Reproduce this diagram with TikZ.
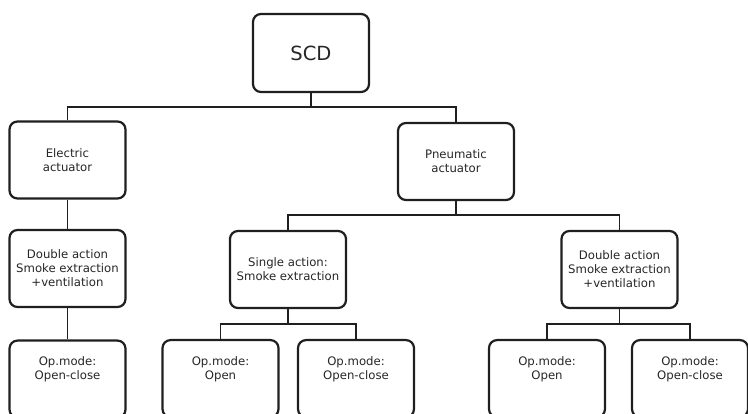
\documentclass[tikz,border=0pt]{standalone}
\usepackage{fontspec}
\setmainfont{DejaVu Sans}
\usepackage{tikz}
\usetikzlibrary{positioning}

\begin{document}
\begin{tikzpicture}[x=1pt,y=-1pt,line width=1.1pt,
    box/.style={draw=black!88,line width=2.2pt,rounded corners=8pt,
        minimum width=116pt,minimum height=77pt,align=center,
        font=\fontsize{11.7}{14}\selectfont,text=black!85},
    leaf/.style={box,anchor=north,text depth=22pt},
    stem/.style={draw=black!88,line width=1.7pt},
    bus/.style={draw=black!88,line width=1.1pt}]
    \useasboundingbox (0,0) rectangle (748,414);

    \node[box,minimum height=78pt,font=\fontsize{19.5}{22}\selectfont] (scd) at (311,53) {SCD};

    \node[box] (elec) at (67.5,160) {Electric\\actuator};
    \node[box] (pneu) at (456,161.5) {Pneumatic\\actuator};

    \node[box] (elecda) at (67.5,268.5) {Double action\\Smoke extraction\\+ventilation};
    \node[box] (pneusa) at (288,269.5) {Single action:\\Smoke extraction};
    \node[box] (pneuda) at (619.5,269.5) {Double action\\Smoke extraction\\+ventilation};

    \node[leaf] (elecop) at (67.5,339.5) {Op.mode:\\Open-close};
    \node[leaf] (saopen) at (220.5,339) {Op.mode:\\Open};
    \node[leaf] (saclose) at (356,339) {Op.mode:\\Open-close};
    \node[leaf] (daopen) at (547,339) {Op.mode:\\Open};
    \node[leaf] (daclose) at (690,339) {Op.mode:\\Open-close};

    % branch levels
    \coordinate (lvl1) at (0,107);
    \coordinate (lvl2) at (0,215);
    \coordinate (lvl3) at (0,324);

    \draw[stem] (scd.south) -- (scd.south |- lvl1);
    \draw[bus] (elec.north) |- (lvl1 -| pneu.north) -- (pneu.north);

    \draw[stem] (elec.south) -- (elecda.north);
    \draw[stem] (elecda.south) -- (elecop.north);

    \draw[stem] (pneu.south) -- (pneu.south |- lvl2);
    \draw[bus] (pneusa.north) |- (lvl2 -| pneuda.north) -- (pneuda.north);

    \draw[stem] (pneusa.south) -- (pneusa.south |- lvl3);
    \draw[bus] (saopen.north) |- (lvl3 -| saclose.north) -- (saclose.north);

    \draw[stem] (pneuda.south) -- (pneuda.south |- lvl3);
    \draw[bus] (daopen.north) |- (lvl3 -| daclose.north) -- (daclose.north);
\end{tikzpicture}
\end{document}
